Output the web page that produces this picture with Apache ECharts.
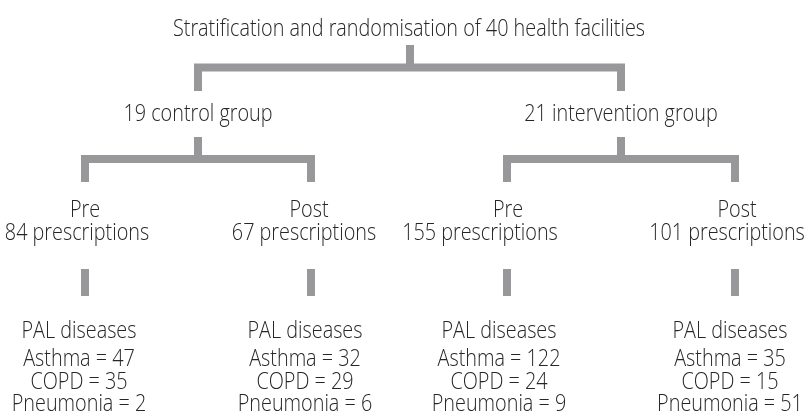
<!DOCTYPE html>
<html>
<head>
    <meta charset="utf-8">
    <title>ECharts</title>
    <script type="text/javascript" src="https://cdn.jsdelivr.net/npm/echarts@6/dist/echarts.min.js"></script>
    <style>html,body{margin:0;padding:0;background:#fff;}</style>
</head>
<body>
    <div id="main" style="width: 808px;height:414px;"></div>
    <script type="text/javascript">
    // data
    var title = 'Stratification and randomisation of 40 health facilities';
    var groups = ['19 control group', '21 intervention group'];
    var phases = ['Pre', 'Post', 'Pre', 'Post'];
    var prescriptions = [84, 67, 155, 101];
    var diseaseHeader = 'PAL diseases';
    var diseases = ['Asthma', 'COPD', 'Pneumonia'];
    var asthma = [47, 32, 122, 35];
    var copd = [35, 29, 24, 15];
    var pneumonia = [2, 6, 9, 51];

    // layout (pixel space of the hidden axes)
    var rootX = 410, groupX = [198, 621], colX = [85, 311, 507, 735];
    var phaseX = [85, 309, 508, 737], rxX = [77, 304, 480, 727], blockX = [79, 305, 499, 730];
    var Y = {title: 29, stem1: [45, 67.5, 91], group: 114, stem2: [137, 159, 182],
             phase: 210, rx: 233, stem3: [269, 296], head: 331, rows: [359, 382, 404]};
    var FONT = "300 24px 'Open Sans', 'DejaVu Sans Condensed', sans-serif";
    var SQUEEZE = 0.825;

    var lines = [];
    lines.push({coords: [[groupX[0], Y.stem1[2]], [groupX[0], Y.stem1[1]], [groupX[1], Y.stem1[1]], [groupX[1], Y.stem1[2]]]});
    lines.push({coords: [[rootX, Y.stem1[0]], [rootX, Y.stem1[1]]]});
    for (var g = 0; g < 2; g++) {
        var a = colX[g * 2], b = colX[g * 2 + 1];
        lines.push({coords: [[a, Y.stem2[2]], [a, Y.stem2[1]], [b, Y.stem2[1]], [b, Y.stem2[2]]]});
        lines.push({coords: [[groupX[g], Y.stem2[0]], [groupX[g], Y.stem2[1]]]});
    }
    colX.forEach(function (x) {
        lines.push({coords: [[x, Y.stem3[0]], [x, Y.stem3[1]]]});
    });

    var texts = [], textPos = [];
    function put(x, y, s) { textPos.push([x, y]); texts.push(s); }
    put(rootX - 1, Y.title, title);
    groups.forEach(function (s, i) { put(groupX[i], Y.group, s); });
    var counts = [asthma, copd, pneumonia];
    for (var i = 0; i < 4; i++) {
        put(phaseX[i], Y.phase, phases[i]);
        put(rxX[i], Y.rx, prescriptions[i] + ' prescriptions');
        put(blockX[i], Y.head, diseaseHeader);
        for (var d = 0; d < diseases.length; d++) {
            put(blockX[i], Y.rows[d], diseases[d] + ' = ' + counts[d][i]);
        }
    }

    var myChart = echarts.init(document.getElementById('main'));
    var option = {
        animation: false,
        grid: {left: 0, right: 0, top: 0, bottom: 0},
        xAxis: {type: 'value', min: 0, max: 808, show: false},
        yAxis: {type: 'value', min: 0, max: 414, inverse: true, show: false},
        series: [
            {
                type: 'lines',
                coordinateSystem: 'cartesian2d',
                polyline: true,
                silent: true,
                lineStyle: {color: '#98989b', width: 8, opacity: 1, cap: 'butt', join: 'miter'},
                data: lines
            },
            {
                type: 'custom',
                silent: true,
                renderItem: function (params, api) {
                    var p = api.coord([api.value(0), api.value(1)]);
                    return {
                        type: 'text',
                        x: p[0], y: p[1], scaleX: SQUEEZE,
                        style: {text: texts[params.dataIndex], font: FONT, fill: '#262626',
                                align: 'center', verticalAlign: 'middle'}
                    };
                },
                data: textPos
            }
        ]
    };
    myChart.setOption(option);
    </script>
</body>
</html>
